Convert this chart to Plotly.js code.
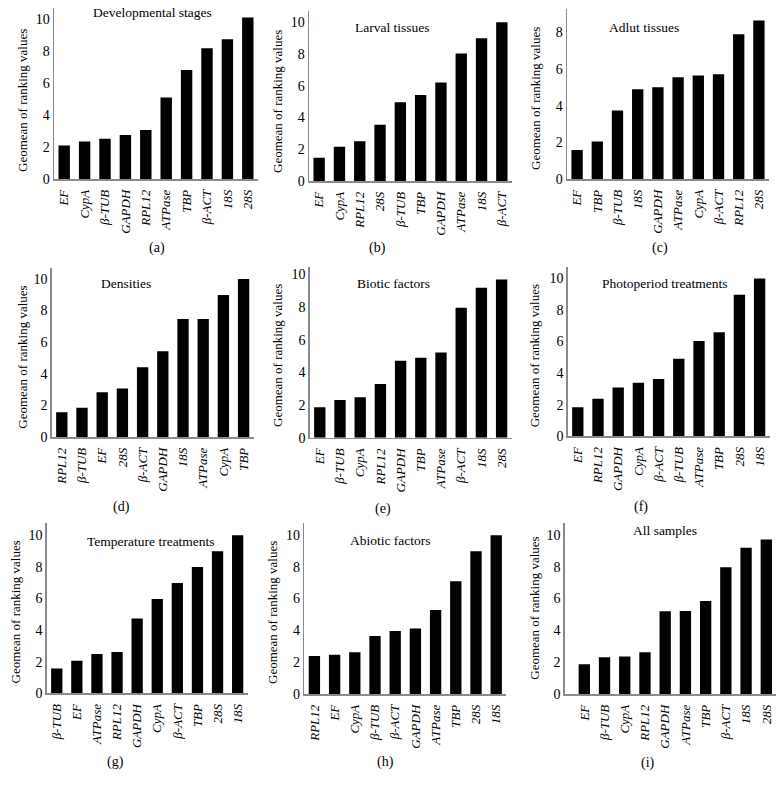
<!DOCTYPE html>
<html>
<head>
<meta charset="utf-8">
<script src="https://cdn.plot.ly/plotly-3.0.1.min.js"></script>
<style>html,body{margin:0;padding:0;background:#fff;}#chart{width:784px;height:790px;}</style>
</head>
<body>
<div id="chart"></div>
<script>
// ---- Data ----
const titles = ["Developmental stages","Larval tissues","Adlut tissues","Densities","Biotic factors","Photoperiod treatments","Temperature treatments","Abiotic factors","All samples"];
const letters = ["(a)","(b)","(c)","(d)","(e)","(f)","(g)","(h)","(i)"];

const catsA = ["EF","CypA","β-TUB","GAPDH","RPL12","ATPase","TBP","β-ACT","18S","28S"];
const valsA = [2.1, 2.35, 2.52, 2.75, 3.06, 5.1, 6.81, 8.17, 8.73, 10.1];

const catsB = ["EF","CypA","RPL12","28S","β-TUB","TBP","GAPDH","ATPase","18S","β-ACT"];
const valsB = [1.47, 2.16, 2.5, 3.55, 4.96, 5.42, 6.2, 8.03, 8.99, 10.0];

const catsC = ["EF","TBP","β-TUB","18S","GAPDH","ATPase","CypA","β-ACT","RPL12","28S"];
const valsC = [1.58, 2.04, 3.73, 4.89, 5.0, 5.55, 5.64, 5.71, 7.89, 8.64];

const catsD = ["RPL12","β-TUB","EF","28S","β-ACT","GAPDH","18S","ATPase","CypA","TBP"];
const valsD = [1.56, 1.85, 2.82, 3.07, 4.4, 5.41, 7.45, 7.45, 8.97, 9.98];

const catsE = ["EF","β-TUB","CypA","RPL12","GAPDH","TBP","ATPase","β-ACT","18S","28S"];
const valsE = [1.86, 2.31, 2.47, 3.29, 4.71, 4.9, 5.22, 7.96, 9.18, 9.69];

const catsF = ["EF","RPL12","GAPDH","CypA","β-ACT","β-TUB","ATPase","TBP","28S","18S"];
const valsF = [1.83, 2.38, 3.09, 3.39, 3.62, 4.9, 6.02, 6.57, 8.95, 9.98];

const catsG = ["β-TUB","EF","ATPase","RPL12","GAPDH","CypA","β-ACT","TBP","28S","18S"];
const valsG = [1.56, 2.06, 2.48, 2.61, 4.72, 5.96, 6.97, 7.98, 8.97, 9.98];

const catsH = ["RPL12","EF","CypA","β-TUB","β-ACT","GAPDH","ATPase","TBP","28S","18S"];
const valsH = [2.39, 2.47, 2.62, 3.65, 3.96, 4.11, 5.28, 7.09, 8.97, 9.98];

const catsI = ["EF","β-TUB","CypA","RPL12","GAPDH","ATPase","TBP","β-ACT","18S","28S"];
const valsI = [1.87, 2.31, 2.35, 2.62, 5.2, 5.22, 5.85, 7.97, 9.2, 9.71];

const yTicks = [0, 2, 4, 6, 8, 10];
const yTitle = "Geomean of ranking values";

// ---- Layout geometry (pixels) ----
const W = 784, H = 790;
const cats = [catsA,catsB,catsC,catsD,catsE,catsF,catsG,catsH,catsI];
const vals = [valsA,valsB,valsC,valsD,valsE,valsF,valsG,valsH,valsI];
// [xLeft, xRight, yTop, yBase, yMax, xStart]
const geo = [
  [54, 258, 7.8, 179, 10.7, -0.5],
  [309, 512, 11.2, 181, 10.7, -0.5],
  [567, 769, 8.5, 179, 9.3, -0.5],
  [51.7, 253.7, 267.6, 437, 10.7, -0.5],
  [309.7, 511.7, 267, 437.7, 10.45, -0.5],
  [567.7, 769.7, 267, 436.3, 10.7, -0.5],
  [46.7, 247.7, 523, 693.3, 10.76, -0.5],
  [304.3, 506.3, 523, 694, 10.75, -0.5],
  [564.7, 776.4, 523, 694, 10.75, -0.97]
];
const titlePos = [[152,13],[392,28],[643.7,28],[126,283.7],[393.7,283],[664.7,283],[150.7,541.7],[390.3,540],[664.7,530]];
const letterPos = [[157,248],[377,248],[659.7,248],[121.7,507],[383,508.7],[641.3,507],[115,762.3],[385.3,762.3],[648,763.3]];
const yTitlePos = [[22,101],[277,102],[535,99],[21.7,357],[278,356],[535.3,356],[15,612.5],[272,613],[533.7,608]];

const FONT = "Liberation Serif, Times New Roman, serif";
const px = v => v / W;
const py = v => 1 - v / H;

const data = [];
const layout = {
  width: W, height: H,
  margin: {l:0, r:0, t:0, b:0},
  paper_bgcolor: "#fff", plot_bgcolor: "#fff",
  showlegend: false,
  bargap: 0.44,
  font: {family: FONT, color: "#000"},
  annotations: []
};

for (let i = 0; i < 9; i++) {
  const n = i === 0 ? "" : String(i + 1);
  const g = geo[i];
  data.push({
    type: "bar",
    x: cats[i], y: vals[i],
    xaxis: "x" + n, yaxis: "y" + n,
    marker: {color: "#000", line: {width: 0}},
    hoverinfo: "x+y"
  });
  layout["xaxis" + n] = {
    domain: [px(g[0]), px(g[1])],
    anchor: "y" + n,
    type: "category",
    range: [g[5], 9.5],
    showline: true, linecolor: "#8a8a8a", linewidth: 1.5,
    showgrid: false, zeroline: false,
    ticks: "outside", ticklen: 4, tickcolor: "rgba(0,0,0,0)",
    tickangle: -90,
    tickfont: {family: FONT, size: 13, style: "italic", color: "#000"},
    fixedrange: true
  };
  layout["yaxis" + n] = {
    domain: [py(g[3]), py(g[2])],
    anchor: "x" + n,
    range: [0, g[4]],
    showline: true, linecolor: "#8a8a8a", linewidth: 1.5,
    showgrid: false, zeroline: false,
    tickvals: yTicks, ticks: "",
    tickfont: {family: FONT, size: 14, color: "#000"},
    fixedrange: true
  };
  layout.annotations.push({
    xref: "paper", yref: "paper", x: px(titlePos[i][0]), y: py(titlePos[i][1]),
    text: titles[i], showarrow: false, xanchor: "center", yanchor: "middle",
    font: {family: FONT, size: 13.5, color: "#000"}
  });
  layout.annotations.push({
    xref: "paper", yref: "paper", x: px(letterPos[i][0]), y: py(letterPos[i][1]),
    text: letters[i], showarrow: false, xanchor: "center", yanchor: "middle",
    font: {family: FONT, size: 14, color: "#000"}
  });
  layout.annotations.push({
    xref: "paper", yref: "paper", x: px(yTitlePos[i][0]), y: py(yTitlePos[i][1]),
    text: yTitle, textangle: -90, showarrow: false, xanchor: "center", yanchor: "middle",
    font: {family: FONT, size: 13, color: "#000"}
  });
}

Plotly.newPlot("chart", data, layout, {displayModeBar: false, staticPlot: true});
</script>
</body>
</html>
